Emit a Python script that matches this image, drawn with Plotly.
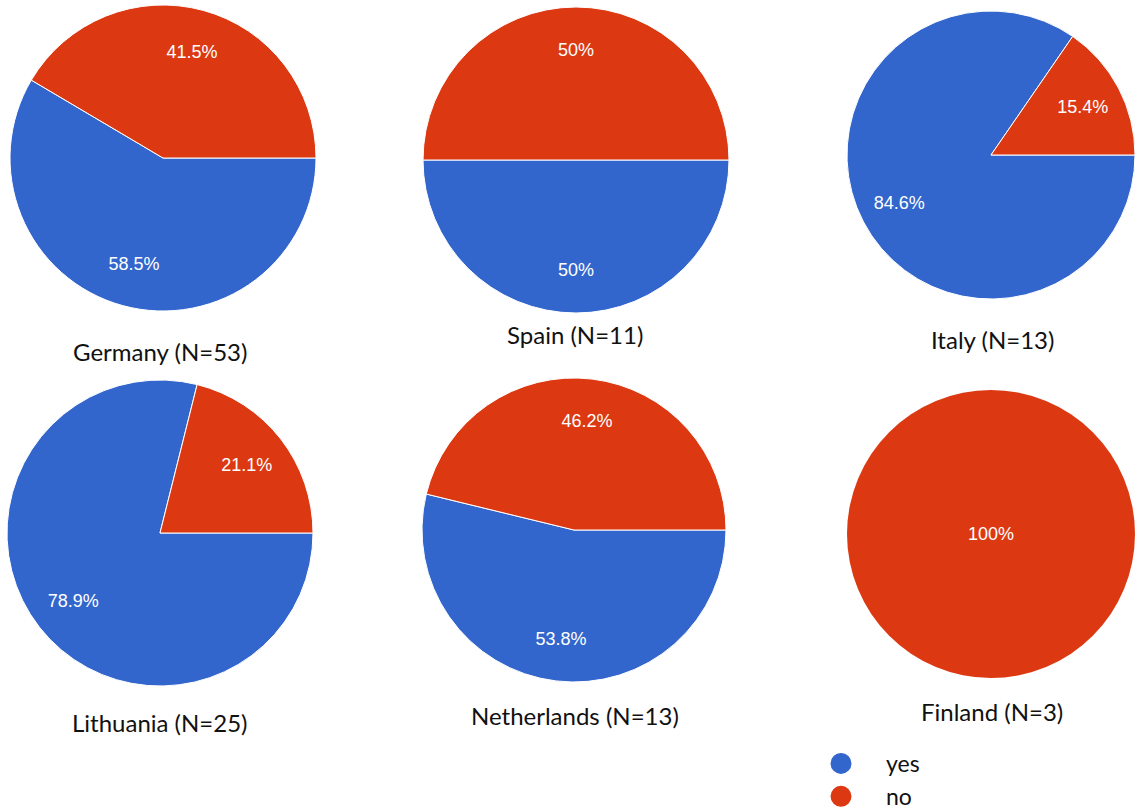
import plotly.graph_objects as go

W, H = 1135, 809

countries = ["Germany (N=53)", "Spain (N=11)", "Italy (N=13)",
             "Lithuania (N=25)", "Netherlands (N=13)", "Finland (N=3)"]
labels = ["yes", "no"]
yes_pct = [58.5, 50, 84.6, 78.9, 53.8, 0]
no_pct = [41.5, 50, 15.4, 21.1, 46.2, 100]

BLUE = "#3366CC"
RED = "#DC3912"

# pixel domains (x0, x1, ytop, ybottom)
domains = [
    (10, 316, 5, 311),
    (423, 729, 7, 313),
    (847, 1135, 11, 299),
    (7, 313, 380, 686),
    (422, 726, 378, 682),
    (847, 1135, 390, 678),
]
title_pos = [(160, 351), (575, 334), (992, 339), (160, 722), (575, 715), (992, 711)]

fig = go.Figure()
for i, c in enumerate(countries):
    x0, x1, yt, yb = domains[i]
    dom = dict(x=[x0 / W, x1 / W], y=[1 - yb / H, 1 - yt / H])
    vals = [yes_pct[i], no_pct[i]]
    single = (no_pct[i] == 0 or yes_pct[i] == 0)
    # visible pie (no text)
    fig.add_trace(go.Pie(
        labels=labels, values=vals, sort=False,
        direction="clockwise", rotation=90,
        marker=dict(colors=[BLUE, RED],
                    line=dict(color="white", width=0 if single else 1)),
        textinfo="none",
        hoverinfo="label+percent",
        showlegend=False,
        domain=dom,
    ))
    # transparent text carrier (hole places labels further out)
    fig.add_trace(go.Pie(
        labels=labels, values=vals, sort=False,
        direction="clockwise", rotation=90,
        hole=0 if single else 0.44,
        marker=dict(colors=["rgba(0,0,0,0)", "rgba(0,0,0,0)"],
                    line=dict(width=0)),
        textinfo="percent",
        textposition="inside",
        textfont=dict(family="Liberation Sans, Arial", size=18, color="white"),
        hoverinfo="skip",
        showlegend=False,
        domain=dom,
    ))
    tx, ty = title_pos[i]
    fig.add_annotation(
        x=tx / W, y=1 - ty / H, xref="paper", yref="paper",
        text=c, showarrow=False,
        font=dict(family="Lato, Open Sans", size=24, color="#111111"),
        xanchor="center", yanchor="middle",
    )

for name, col in [("yes", BLUE), ("no", RED)]:
    fig.add_trace(go.Scatter(
        x=[None], y=[None], mode="markers", name=name,
        marker=dict(color=col, size=24, symbol="circle",
                    line=dict(color=col, width=8)),
        showlegend=True,
    ))

fig.update_layout(
    width=W, height=H,
    margin=dict(l=0, r=0, t=0, b=0, autoexpand=False),
    paper_bgcolor="white",
    plot_bgcolor="rgba(0,0,0,0)",
    xaxis=dict(visible=False),
    yaxis=dict(visible=False),
    legend=dict(
        x=796 / W, y=1 - 742 / H, xanchor="left", yanchor="top",
        font=dict(family="Lato, Open Sans", size=23, color="#111111"),
        bgcolor="rgba(0,0,0,0)",
        itemwidth=80,
        tracegroupgap=0,
    ),
)

fig.write_html("out.html")
